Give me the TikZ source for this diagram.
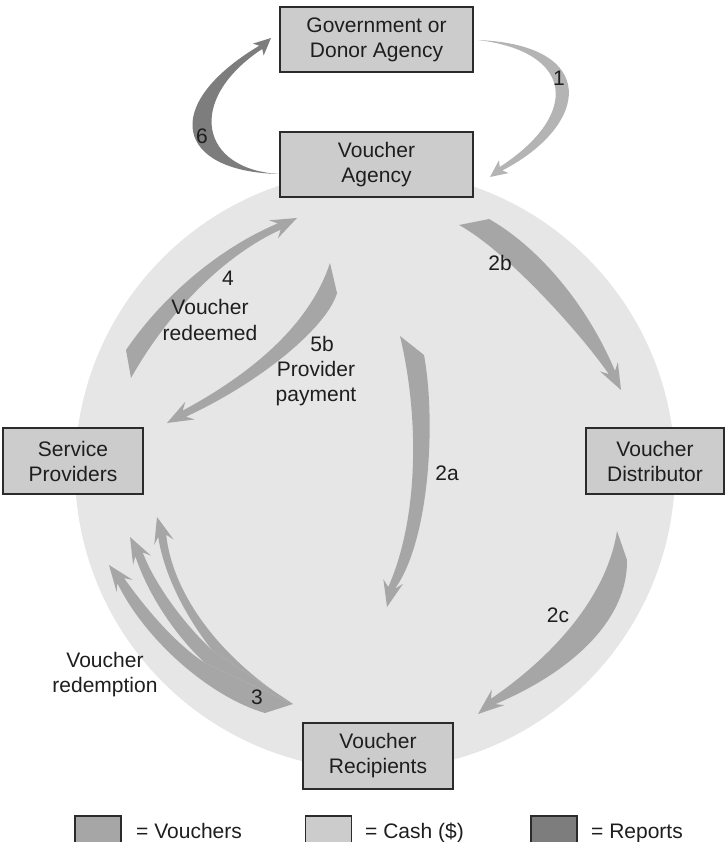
\documentclass[tikz,border=0pt]{standalone}
\usepackage{fontspec}
\setmainfont{Liberation Sans}
\usetikzlibrary{calc}

\definecolor{ring}{HTML}{E6E6E6}
\definecolor{vouch}{HTML}{A6A6A6}
\definecolor{cashc}{HTML}{B4B4B4}
\definecolor{cashbox}{HTML}{CCCCCC}
\definecolor{report}{HTML}{7D7D7D}
\definecolor{boxfill}{HTML}{CCCCCC}
\definecolor{edge}{HTML}{2B2B2B}
\definecolor{ink}{HTML}{1E1E1E}

\tikzset{
  agent/.style={draw=edge, line width=1.1pt, fill=boxfill, align=center,
    inner sep=0pt, text=ink, font=\fontsize{21}{25}\selectfont},
  lbl/.style={text=ink, font=\fontsize{21}{25}\selectfont, inner sep=0pt, anchor=base},
  swatch/.style={draw=edge, line width=1.1pt, minimum width=46pt,
    minimum height=30pt, inner sep=0pt}
}

\begin{document}
\begin{tikzpicture}[x=1pt,y=-1pt]
\useasboundingbox (0,0) rectangle (725,842);

% background disc
\fill[ring] (375,470) circle[radius=300pt];

% ---- 1: cash from the donor to the voucher agency
\coordinate (t1) at (478,40);
\coordinate (p1) at (490,177);
\coordinate (q1) at (514,159);
\fill[cashc] (t1) .. controls (600,45) and (590,125) .. ($(p1)!14pt!-9:(q1)$)
  -- ($(p1)!19pt!-25:(q1)$) -- (p1) -- ($(p1)!19pt!25:(q1)$)
  -- ($(p1)!14pt!9:(q1)$) .. controls (580,115) and (575,52) .. (t1) -- cycle;

% ---- 6: reports back to the donor
\coordinate (t6) at (280,174);
\coordinate (p6) at (271,38);
\coordinate (q6) at (249,58);
\fill[report] (t6) .. controls (175,172) and (160,105) .. ($(p6)!14pt!-9:(q6)$)
  -- ($(p6)!19pt!-25:(q6)$) -- (p6) -- ($(p6)!19pt!25:(q6)$)
  -- ($(p6)!14pt!9:(q6)$) .. controls (185,100) and (200,170) .. (t6) -- cycle;

% ---- 2b: agency to distributor
\coordinate (a2b) at (459,225);
\coordinate (b2b) at (489,219);
\coordinate (p2b) at (621,390);
\coordinate (q2b) at (607,363);
\fill[vouch] (b2b) .. controls (535,245) and (585,300) .. ($(p2b)!20pt!-10:(q2b)$)
  -- ($(p2b)!28pt!-21:(q2b)$) -- (p2b) -- ($(p2b)!28pt!21:(q2b)$)
  -- ($(p2b)!20pt!10:(q2b)$) .. controls (578,330) and (505,250) .. (a2b) -- cycle;

% ---- 2a: agency straight to recipients
\coordinate (a2a) at (400,336);
\coordinate (b2a) at (424,355);
\coordinate (p2a) at (387,607);
\coordinate (q2a) at (394,578);
\fill[vouch] (b2a) .. controls (436,420) and (430,540) .. ($(p2a)!20pt!-10:(q2a)$)
  -- ($(p2a)!28pt!-21:(q2a)$) -- (p2a) -- ($(p2a)!28pt!21:(q2a)$)
  -- ($(p2a)!20pt!10:(q2a)$) .. controls (418,520) and (420,420) .. (a2a) -- cycle;

% ---- 2c: distributor to recipients
\coordinate (a2c) at (617,531);
\coordinate (b2c) at (627,560);
\coordinate (p2c) at (478,714);
\coordinate (q2c) at (501,695);
\fill[vouch] (b2c) .. controls (628,615) and (580,668) .. ($(p2c)!20pt!-10:(q2c)$)
  -- ($(p2c)!28pt!-21:(q2c)$) -- (p2c) -- ($(p2c)!28pt!21:(q2c)$)
  -- ($(p2c)!20pt!10:(q2c)$) .. controls (562,650) and (608,590) .. (a2c) -- cycle;

% ---- 4: vouchers redeemed at the agency
\coordinate (a4) at (126,350);
\coordinate (b4) at (131,378);
\coordinate (p4) at (297,218);
\coordinate (q4) at (270,231);
\fill[vouch] (a4) .. controls (160,300) and (215,250) .. ($(p4)!20pt!-10:(q4)$)
  -- ($(p4)!28pt!-21:(q4)$) -- (p4) -- ($(p4)!28pt!21:(q4)$)
  -- ($(p4)!20pt!10:(q4)$) .. controls (235,250) and (175,300) .. (b4) -- cycle;

% ---- 5b: provider payment
\coordinate (a5) at (330,263);
\coordinate (b5) at (337,293);
\coordinate (p5) at (167,423);
\coordinate (q5) at (193,409);
\fill[vouch] (b5) .. controls (328,325) and (265,380) .. ($(p5)!20pt!-10:(q5)$)
  -- ($(p5)!28pt!-21:(q5)$) -- (p5) -- ($(p5)!28pt!21:(q5)$)
  -- ($(p5)!20pt!10:(q5)$) .. controls (262,368) and (312,318) .. (a5) -- cycle;

% ---- 3: voucher redemption, one tail fanning into three heads
\coordinate (a3) at (265,713);
\coordinate (b3) at (293,704);
\coordinate (k1) at (205,663);
\coordinate (k2) at (212,650);
\coordinate (pA) at (109,565);
\coordinate (qA) at (127,589);
\coordinate (pB) at (130,537);
\coordinate (qB) at (144,564);
\coordinate (pC) at (157,517);
\coordinate (qC) at (165,546);
\fill[vouch] (a3) .. controls (210,697) and (145,640) .. ($(pA)!20pt!-12:(qA)$)
  -- ($(pA)!28pt!-21:(qA)$) -- (pA) -- ($(pA)!28pt!21:(qA)$)
  -- ($(pA)!20pt!12:(qA)$) .. controls (139,599) and (170,640) .. (k1) -- (b3) -- cycle;
\fill[vouch] (k1) .. controls (180,640) and (150,600) .. ($(pB)!20pt!-12:(qB)$)
  -- ($(pB)!28pt!-21:(qB)$) -- (pB) -- ($(pB)!28pt!21:(qB)$)
  -- ($(pB)!20pt!12:(qB)$) .. controls (155,585) and (185,625) .. (k2) -- (b3) -- cycle;
\fill[vouch] (k2) .. controls (190,622) and (165,580) .. ($(pC)!20pt!-12:(qC)$)
  -- ($(pC)!28pt!-21:(qC)$) -- (pC) -- ($(pC)!28pt!21:(qC)$)
  -- ($(pC)!20pt!12:(qC)$) .. controls (172,590) and (215,655) .. (b3) -- cycle;

% ---- actors
\node[agent, minimum width=193pt, minimum height=65pt] (gov) at (376.5,39.5) {Government or\\Donor Agency};
\node[agent, minimum width=193pt, minimum height=65pt] (va) at (376.5,164.5) {Voucher\\Agency};
\node[agent, minimum width=140pt, minimum height=66pt] (sp) at (73,461) {Service\\Providers};
\node[agent, minimum width=138pt, minimum height=66pt] (vd) at (655,461) {Voucher\\Distributor};
\node[agent, minimum width=150pt, minimum height=66pt] (vr) at (378,756) {Voucher\\Recipients};

% ---- flow labels
\node[lbl] (l1) at (559,86) {1};
\node[lbl] (l6) at (202,144) {6};
\node[lbl] (l2b) at (500,270) {2b};
\node[lbl] (l2a) at (447,480) {2a};
\node[lbl] (l2c) at (558,622) {2c};
\node[lbl] (l3) at (257,704) {3};
\node[lbl] (l4) at (228,285) {4};
\node[lbl] (l4a) at (210,314) {Voucher};
\node[lbl] (l4b) at (210,340) {redeemed};
\node[lbl] (l5) at (322,351) {5b};
\node[lbl] (l5a) at (316,376) {Provider};
\node[lbl] (l5b) at (316,401) {payment};
\node[lbl] (l3a) at (105,667) {Voucher};
\node[lbl] (l3b) at (105,692) {redemption};

% ---- legend
\node[swatch, fill=vouch] (kv) at (98,831) {};
\node[swatch, fill=cashbox] (kc) at (328.5,831) {};
\node[swatch, fill=report] (kr) at (554,831) {};
\node[lbl, anchor=base west] (tv) at (136,838) {= Vouchers};
\node[lbl, anchor=base west] (tc) at (365,838) {= Cash (\$)};
\node[lbl, anchor=base west] (tr) at (591,838) {= Reports};
\end{tikzpicture}
\end{document}
